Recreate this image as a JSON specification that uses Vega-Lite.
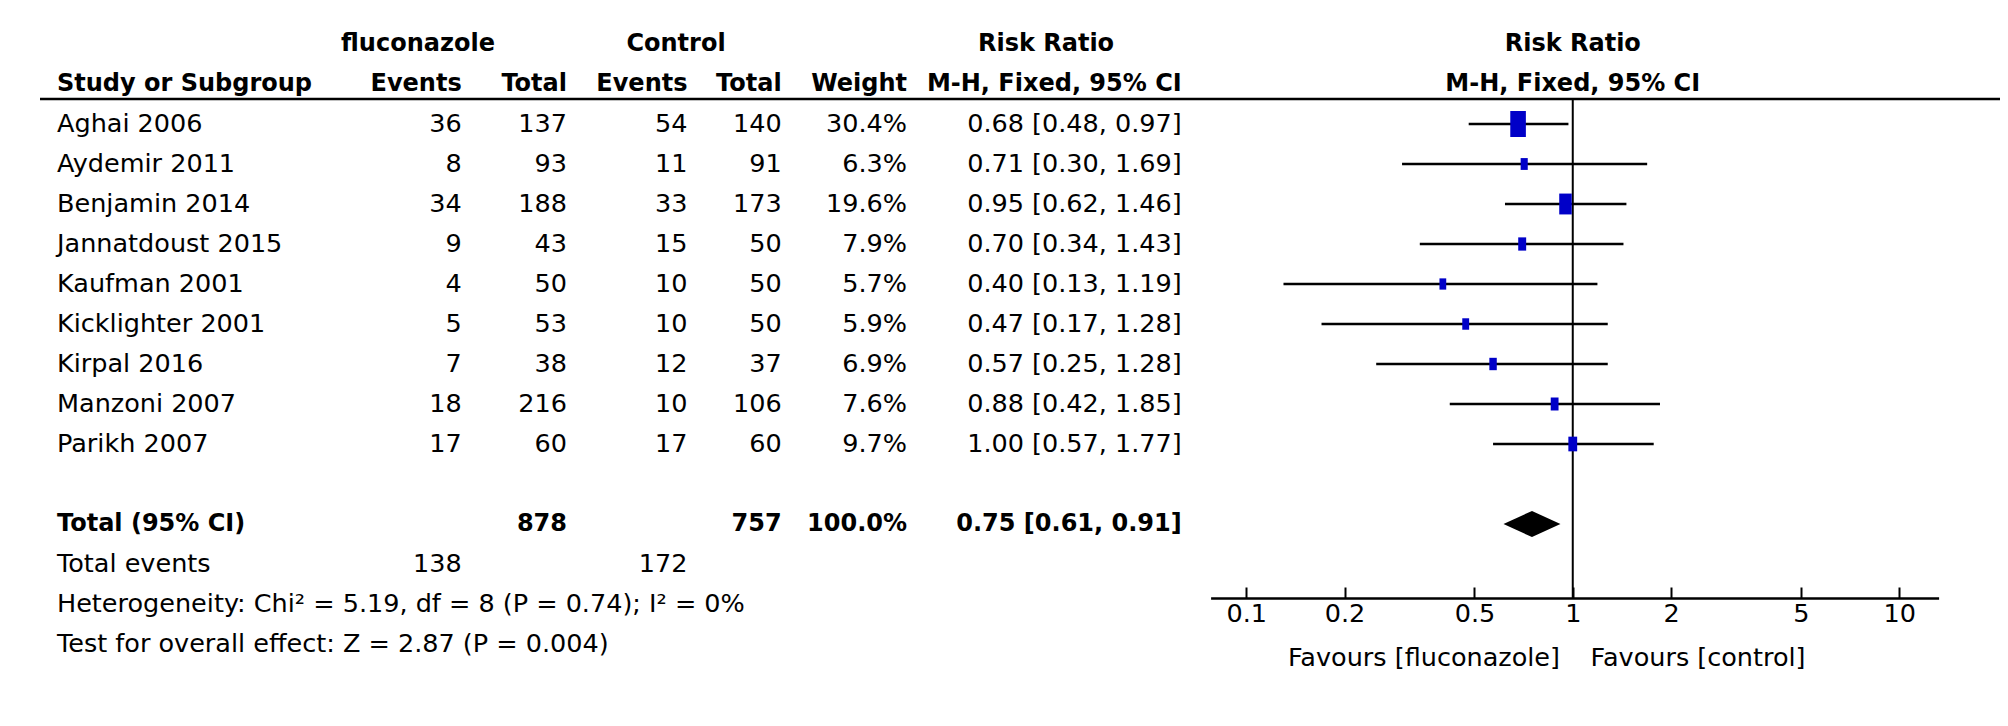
{
  "$schema": "https://vega.github.io/schema/vega-lite/v6.json",
  "width": 2008,
  "height": 598,
  "autosize": {"type": "none"},
  "padding": {"left": 0, "top": 0, "right": 0, "bottom": 128},
  "background": "white",
  "config": {
    "view": {"stroke": null},
    "text": {"font": "DejaVu Sans", "fontSize": 25.5, "color": "black", "baseline": "middle"}
  },
  "datasets": {
    "rows": [
      {"kind": "study", "study": "Aghai 2006", "fe": 36, "ft": 137, "ce": 54, "ct": 140, "w": 0.304, "rr": 0.68, "lo": 0.48, "hi": 0.97, "ci": "0.68 [0.48, 0.97]", "row": 1},
      {"kind": "study", "study": "Aydemir 2011", "fe": 8, "ft": 93, "ce": 11, "ct": 91, "w": 0.063, "rr": 0.71, "lo": 0.30, "hi": 1.69, "ci": "0.71 [0.30, 1.69]", "row": 2},
      {"kind": "study", "study": "Benjamin 2014", "fe": 34, "ft": 188, "ce": 33, "ct": 173, "w": 0.196, "rr": 0.95, "lo": 0.62, "hi": 1.46, "ci": "0.95 [0.62, 1.46]", "row": 3},
      {"kind": "study", "study": "Jannatdoust 2015", "fe": 9, "ft": 43, "ce": 15, "ct": 50, "w": 0.079, "rr": 0.70, "lo": 0.34, "hi": 1.43, "ci": "0.70 [0.34, 1.43]", "row": 4},
      {"kind": "study", "study": "Kaufman 2001", "fe": 4, "ft": 50, "ce": 10, "ct": 50, "w": 0.057, "rr": 0.40, "lo": 0.13, "hi": 1.19, "ci": "0.40 [0.13, 1.19]", "row": 5},
      {"kind": "study", "study": "Kicklighter 2001", "fe": 5, "ft": 53, "ce": 10, "ct": 50, "w": 0.059, "rr": 0.47, "lo": 0.17, "hi": 1.28, "ci": "0.47 [0.17, 1.28]", "row": 6},
      {"kind": "study", "study": "Kirpal 2016", "fe": 7, "ft": 38, "ce": 12, "ct": 37, "w": 0.069, "rr": 0.57, "lo": 0.25, "hi": 1.28, "ci": "0.57 [0.25, 1.28]", "row": 7},
      {"kind": "study", "study": "Manzoni  2007", "fe": 18, "ft": 216, "ce": 10, "ct": 106, "w": 0.076, "rr": 0.88, "lo": 0.42, "hi": 1.85, "ci": "0.88 [0.42, 1.85]", "row": 8},
      {"kind": "study", "study": "Parikh 2007", "fe": 17, "ft": 60, "ce": 17, "ct": 60, "w": 0.097, "rr": 1.00, "lo": 0.57, "hi": 1.77, "ci": "1.00 [0.57, 1.77]", "row": 9},
      {"kind": "total", "study": "Total (95% CI)", "ft": 878, "ct": 757, "w": 1.0, "rr": 0.75, "lo": 0.61, "hi": 0.91, "ci": "0.75 [0.61, 0.91]", "row": 11},
      {"kind": "events", "study": "Total events", "fe": 138, "ce": 172, "row": 12},
      {"kind": "note", "study": "Heterogeneity: Chi² = 5.19, df = 8 (P = 0.74); I² = 0%", "row": 13},
      {"kind": "note", "study": "Test for overall effect: Z = 2.87 (P = 0.004)", "row": 14}
    ]
  },
  "resolve": {"scale": {"x": "independent"}, "axis": {"x": "independent"}},
  "layer": [
    {
      "data": {"name": "rows"},
      "layer": [
        {
          "data": {"values": [{}]},
          "mark": {"type": "rule", "stroke": "black", "strokeWidth": 2.5},
          "encoding": {
            "x": {"datum": 40, "type": "quantitative", "scale": {"domain": [0, 2008], "nice": false, "zero": false}, "axis": null},
            "x2": {"datum": 2000},
            "y": {"datum": 0.375, "type": "quantitative", "scale": {"domain": [-2.1, 12.85], "reverse": true, "nice": false, "zero": false}, "axis": null}
          }
        },
        {
          "transform": [{"filter": "datum.kind != 'total'"}],
          "mark": {"type": "text", "align": "left"},
          "encoding": {
            "x": {"datum": 57, "type": "quantitative"},
            "y": {"field": "row", "type": "quantitative"},
            "text": {"field": "study"}
          }
        },
        {
          "transform": [{"filter": "isValid(datum.fe)"}],
          "mark": {"type": "text", "align": "right"},
          "encoding": {
            "x": {"datum": 461.7, "type": "quantitative"},
            "y": {"field": "row", "type": "quantitative"},
            "text": {"field": "fe", "type": "quantitative"}
          }
        },
        {
          "transform": [{"filter": "datum.kind == 'study'"}],
          "mark": {"type": "text", "align": "right"},
          "encoding": {
            "x": {"datum": 567, "type": "quantitative"},
            "y": {"field": "row", "type": "quantitative"},
            "text": {"field": "ft", "type": "quantitative"}
          }
        },
        {
          "transform": [{"filter": "isValid(datum.ce)"}],
          "mark": {"type": "text", "align": "right"},
          "encoding": {
            "x": {"datum": 687.5, "type": "quantitative"},
            "y": {"field": "row", "type": "quantitative"},
            "text": {"field": "ce", "type": "quantitative"}
          }
        },
        {
          "transform": [{"filter": "datum.kind == 'study'"}],
          "mark": {"type": "text", "align": "right"},
          "encoding": {
            "x": {"datum": 781.7, "type": "quantitative"},
            "y": {"field": "row", "type": "quantitative"},
            "text": {"field": "ct", "type": "quantitative"}
          }
        },
        {
          "transform": [{"filter": "datum.kind == 'study'"}],
          "mark": {"type": "text", "align": "right"},
          "encoding": {
            "x": {"datum": 907, "type": "quantitative"},
            "y": {"field": "row", "type": "quantitative"},
            "text": {"field": "w", "type": "quantitative", "format": ".1%"}
          }
        },
        {
          "transform": [{"filter": "datum.kind == 'study'"}],
          "mark": {"type": "text", "align": "right"},
          "encoding": {
            "x": {"datum": 1181.7, "type": "quantitative"},
            "y": {"field": "row", "type": "quantitative"},
            "text": {"field": "ci"}
          }
        },
        {
          "transform": [{"filter": "datum.kind == 'total'"}],
          "mark": {"type": "text", "align": "left", "fontWeight": "bold", "fontSize": 24},
          "encoding": {
            "x": {"datum": 57, "type": "quantitative"},
            "y": {"field": "row", "type": "quantitative"},
            "text": {"field": "study"}
          }
        },
        {
          "transform": [{"filter": "datum.kind == 'total'"}],
          "mark": {"type": "text", "align": "right", "fontWeight": "bold", "fontSize": 24},
          "encoding": {
            "x": {"datum": 567, "type": "quantitative"},
            "y": {"field": "row", "type": "quantitative"},
            "text": {"field": "ft", "type": "quantitative"}
          }
        },
        {
          "transform": [{"filter": "datum.kind == 'total'"}],
          "mark": {"type": "text", "align": "right", "fontWeight": "bold", "fontSize": 24},
          "encoding": {
            "x": {"datum": 781.7, "type": "quantitative"},
            "y": {"field": "row", "type": "quantitative"},
            "text": {"field": "ct", "type": "quantitative"}
          }
        },
        {
          "transform": [{"filter": "datum.kind == 'total'"}],
          "mark": {"type": "text", "align": "right", "fontWeight": "bold", "fontSize": 24},
          "encoding": {
            "x": {"datum": 907, "type": "quantitative"},
            "y": {"field": "row", "type": "quantitative"},
            "text": {"field": "w", "type": "quantitative", "format": ".1%"}
          }
        },
        {
          "transform": [{"filter": "datum.kind == 'total'"}],
          "mark": {"type": "text", "align": "right", "fontWeight": "bold", "fontSize": 24},
          "encoding": {
            "x": {"datum": 1181.7, "type": "quantitative"},
            "y": {"field": "row", "type": "quantitative"},
            "text": {"field": "ci"}
          }
        },
        {
          "data": {"values": [{}]},
          "mark": {"type": "text", "align": "center", "fontWeight": "bold", "fontSize": 24},
          "encoding": {"x": {"datum": 418, "type": "quantitative"}, "y": {"datum": -1, "type": "quantitative"}, "text": {"value": "fluconazole"}}
        },
        {
          "data": {"values": [{}]},
          "mark": {"type": "text", "align": "center", "fontWeight": "bold", "fontSize": 24},
          "encoding": {"x": {"datum": 676, "type": "quantitative"}, "y": {"datum": -1, "type": "quantitative"}, "text": {"value": "Control"}}
        },
        {
          "data": {"values": [{}]},
          "mark": {"type": "text", "align": "center", "fontWeight": "bold", "fontSize": 24},
          "encoding": {"x": {"datum": 1046, "type": "quantitative"}, "y": {"datum": -1, "type": "quantitative"}, "text": {"value": "Risk Ratio"}}
        },
        {
          "data": {"values": [{}]},
          "mark": {"type": "text", "align": "left", "fontWeight": "bold", "fontSize": 24},
          "encoding": {"x": {"datum": 57, "type": "quantitative"}, "y": {"datum": 0, "type": "quantitative"}, "text": {"value": "Study or Subgroup"}}
        },
        {
          "data": {"values": [{}]},
          "mark": {"type": "text", "align": "right", "fontWeight": "bold", "fontSize": 24},
          "encoding": {"x": {"datum": 461.7, "type": "quantitative"}, "y": {"datum": 0, "type": "quantitative"}, "text": {"value": "Events"}}
        },
        {
          "data": {"values": [{}]},
          "mark": {"type": "text", "align": "right", "fontWeight": "bold", "fontSize": 24},
          "encoding": {"x": {"datum": 567, "type": "quantitative"}, "y": {"datum": 0, "type": "quantitative"}, "text": {"value": "Total"}}
        },
        {
          "data": {"values": [{}]},
          "mark": {"type": "text", "align": "right", "fontWeight": "bold", "fontSize": 24},
          "encoding": {"x": {"datum": 687.5, "type": "quantitative"}, "y": {"datum": 0, "type": "quantitative"}, "text": {"value": "Events"}}
        },
        {
          "data": {"values": [{}]},
          "mark": {"type": "text", "align": "right", "fontWeight": "bold", "fontSize": 24},
          "encoding": {"x": {"datum": 781.7, "type": "quantitative"}, "y": {"datum": 0, "type": "quantitative"}, "text": {"value": "Total"}}
        },
        {
          "data": {"values": [{}]},
          "mark": {"type": "text", "align": "right", "fontWeight": "bold", "fontSize": 24},
          "encoding": {"x": {"datum": 907, "type": "quantitative"}, "y": {"datum": 0, "type": "quantitative"}, "text": {"value": "Weight"}}
        },
        {
          "data": {"values": [{}]},
          "mark": {"type": "text", "align": "right", "fontWeight": "bold", "fontSize": 24},
          "encoding": {"x": {"datum": 1181.7, "type": "quantitative"}, "y": {"datum": 0, "type": "quantitative"}, "text": {"value": "M-H, Fixed, 95% CI"}}
        }
      ]
    },
    {
      "data": {"name": "rows"},
      "layer": [
        {
          "data": {"values": [{}]},
          "mark": {"type": "rule", "stroke": "black", "strokeWidth": 2},
          "encoding": {
            "x": {"datum": 1, "type": "quantitative", "scale": {"type": "log", "domain": [0.07775, 13.2], "range": [1210.6, 1938.6], "nice": false},
              "axis": {"values": [0.1, 0.2, 0.5, 1, 2, 5, 10], "format": "~g", "title": null, "grid": false, "orient": "bottom",
                "domainColor": "black", "domainWidth": 2.5, "tickColor": "black", "tickWidth": 2, "tickSize": -11,
                "labelFont": "DejaVu Sans", "labelFontSize": 25.5, "labelColor": "black", "labelPadding": 14,
                "labelFlush": false, "labelOverlap": false, "labelBound": false}},
            "y": {"datum": 0.375, "type": "quantitative"},
            "y2": {"datum": 12.85}
          }
        },
        {
          "transform": [{"filter": "datum.kind == 'study'"}],
          "mark": {"type": "rule", "stroke": "black", "strokeWidth": 2.5},
          "encoding": {
            "x": {"field": "lo", "type": "quantitative"},
            "x2": {"field": "hi"},
            "y": {"field": "row", "type": "quantitative"}
          }
        },
        {
          "transform": [{"filter": "datum.kind == 'study'"}],
          "mark": {"type": "point", "filled": true, "opacity": 1, "color": "#0000c8", "strokeWidth": 0, "shape": "M-0.6,-1L0.6,-1L0.6,1L-0.6,1Z"},
          "encoding": {
            "x": {"field": "rr", "type": "quantitative"},
            "y": {"field": "row", "type": "quantitative"},
            "size": {"field": "w", "type": "quantitative", "scale": {"domain": [0, 0.304], "range": [0, 676], "zero": true}, "legend": null}
          }
        },
        {
          "transform": [{"filter": "datum.kind == 'total'"}],
          "mark": {"type": "point", "filled": true, "opacity": 1, "color": "black", "strokeWidth": 0, "size": 3249, "shape": "M-1,0L0,-0.46L1,0L0,0.46Z"},
          "encoding": {
            "x": {"field": "rr", "type": "quantitative"},
            "y": {"field": "row", "type": "quantitative"}
          }
        },
        {
          "data": {"values": [{}]},
          "mark": {"type": "text", "align": "center", "fontWeight": "bold", "fontSize": 24},
          "encoding": {"x": {"datum": 1, "type": "quantitative"}, "y": {"datum": -1, "type": "quantitative"}, "text": {"value": "Risk Ratio"}}
        },
        {
          "data": {"values": [{}]},
          "mark": {"type": "text", "align": "center", "fontWeight": "bold", "fontSize": 24},
          "encoding": {"x": {"datum": 1, "type": "quantitative"}, "y": {"datum": 0, "type": "quantitative"}, "text": {"value": "M-H, Fixed, 95% CI"}}
        },
        {
          "data": {"values": [{}]},
          "mark": {"type": "text", "align": "right"},
          "encoding": {"x": {"datum": 0.914, "type": "quantitative"}, "y": {"datum": 14.34, "type": "quantitative"}, "text": {"value": "Favours [fluconazole]"}}
        },
        {
          "data": {"values": [{}]},
          "mark": {"type": "text", "align": "left"},
          "encoding": {"x": {"datum": 1.134, "type": "quantitative"}, "y": {"datum": 14.34, "type": "quantitative"}, "text": {"value": "Favours [control]"}}
        }
      ]
    }
  ]
}
